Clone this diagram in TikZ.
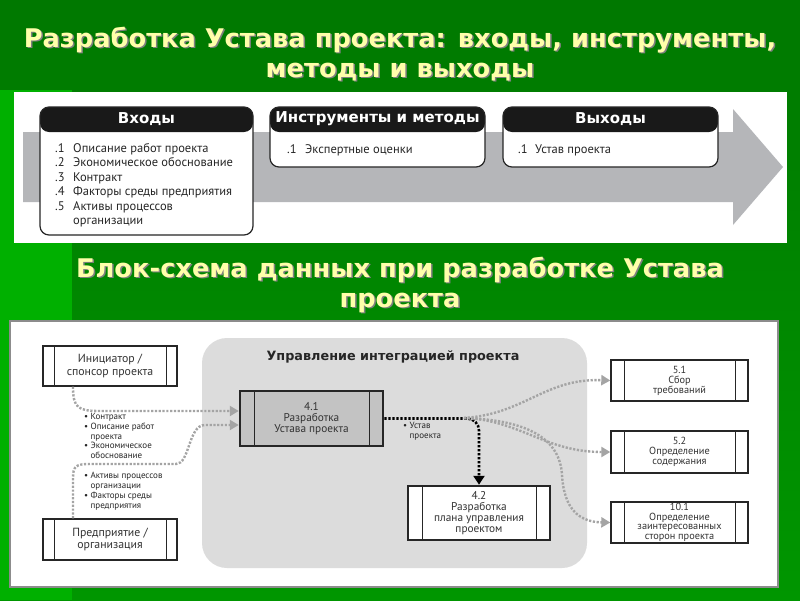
\documentclass[tikz,border=0pt]{standalone}
\usepackage{fontspec}
\setmainfont{PT Sans}
\newfontfamily\titlefont{DejaVu Sans}
\usetikzlibrary{arrows.meta,calc}
\definecolor{bgtop}{HTML}{007800}
\definecolor{bgbot}{HTML}{009600}
\definecolor{bgleft}{HTML}{00B000}
\definecolor{titleyellow}{HTML}{FFFFAA}
\definecolor{arrowgray}{HTML}{B5B6B9}
\definecolor{regiongray}{HTML}{DCDCDC}
\definecolor{procgray}{HTML}{C3C3C3}
\definecolor{dotgray}{HTML}{A4A4A4}

\begin{document}
\begin{tikzpicture}[x=1pt,y=-1pt,
	titletxt/.style={font=\titlefont\bfseries\fontsize{25.7}{28}\selectfont, text=titleyellow, anchor=base, inner sep=0},
	titleshadow/.style={titletxt, text=black!50},
	ittobox/.style={draw=black!85, line width=1.2pt, fill=white, rounded corners=9pt, inner sep=0,
		path picture={\fill[black!90] (path picture bounding box.north west) rectangle ([yshift=-25pt]path picture bounding box.north east);}},
	headtxt/.style={font=\titlefont\bfseries\fontsize{15}{17}\selectfont, text=white, inner sep=0},
	itemtxt/.style={font=\fontsize{12.5}{14}\selectfont, text=black!85, anchor=base west, inner sep=0},
	procbox/.style={draw=black!85, line width=1.4pt, fill=white, inner sep=0, align=center, text=black!80,
		path picture={\draw[line width=0.9pt] ([xshift=#1]path picture bounding box.north west) -- ([xshift=#1]path picture bounding box.south west)
			([xshift=-#1]path picture bounding box.north east) -- ([xshift=-#1]path picture bounding box.south east);}},
	procbox/.default=12pt,
	bullettxt/.style={font=\fontsize{9}{9.8}\selectfont, align=left, anchor=north west, inner sep=0, text=black!85},
	graydots/.style={draw=dotgray, line width=2.4pt, dash pattern=on 2.2pt off 1.6pt, -{Triangle[length=9pt,width=10pt]}},
	blackdots/.style={draw=black, line width=2.6pt, dash pattern=on 2.4pt off 1.6pt, -{Triangle[length=9pt,width=11pt]}}
	]
	% background
	\useasboundingbox (0,0) rectangle (800,600);
	\shade[top color=bgtop, bottom color=bgbot] (0,0) rectangle (800,600);
	\fill[bgleft] (0,90) rectangle (72,600);
	% titles
	\foreach \txt/\yy [count=\i] in {{Разработка Устава проекта: входы, инструменты,}/47, {методы и выходы}/77,
		{Блок-схема данных при разработке Устава}/277, {проекта}/307}{
		\node[titleshadow] (tsh\i) at (401.5,\yy+1.5) {\txt};
		\node[titletxt] (ttl\i) at (400,\yy) {\txt};
	}

	% top panel: inputs, tools, outputs
	\fill[white] (14,92) rectangle (787,243);
	\fill[arrowgray] (23,132) -- (733,132) -- (733,109) -- (783,167) -- (733,225) -- (733,202) -- (23,202) -- cycle;
	\node[ittobox, minimum width=213pt, minimum height=128pt] (inbox) at (146.5,171) {};
	\node[ittobox, minimum width=215pt, minimum height=60pt] (toolbox) at (377.5,137) {};
	\node[ittobox, minimum width=215pt, minimum height=60pt] (outbox) at (610.5,137) {};
	\node[headtxt] (inhead) at ([yshift=-12.5pt]inbox.north) {Входы};
	\node[headtxt] (toolhead) at ([yshift=-12.5pt]toolbox.north) {Инструменты и методы};
	\node[headtxt] (outhead) at ([yshift=-12.5pt]outbox.north) {Выходы};
	\foreach \n/\t [count=\i from 0] in {.1/Описание работ проекта, .2/Экономическое обоснование, .3/Контракт,
		.4/Факторы среды предприятия, .5/Активы процессов, /организации}{
		\node[itemtxt] (num\i) at (55,152+14.5*\i) {\n};
		\node[itemtxt] (item\i) at (73,152+14.5*\i) {\t};
	}
	\node[itemtxt] (toolnum) at (287,153) {.1};
	\node[itemtxt] (toolitem) at (305,153) {Экспертные оценки};
	\node[itemtxt] (outnum) at (518,153) {.1};
	\node[itemtxt] (outitem) at (535,153) {Устав проекта};

	% bottom panel: data flow
	\draw[draw=black!45, line width=1.2pt, fill=white] (10,321) rectangle (778,587);
	\fill[regiongray, rounded corners=25pt] (202,338) rectangle (587,568);
	\node[font=\titlefont\bfseries\fontsize{12.8}{14}\selectfont, text=black!85] (regtitle) at (393,357) {Управление интеграцией проекта};

	\node[procbox=11pt, minimum width=134pt, minimum height=40pt, font=\fontsize{11.8}{12.5}\selectfont] (sponsor) at (110,366) {Инициатор /\\спонсор проекта};
	\node[procbox=11pt, minimum width=134pt, minimum height=41pt, font=\fontsize{11.8}{12.5}\selectfont] (enterprise) at (110,539.5) {Предприятие /\\организация};
	\node[procbox=14pt, line width=2.5pt, fill=procgray, minimum width=143pt, minimum height=55pt, font=\fontsize{11.3}{10.8}\selectfont] (dev) at (311.5,418.5) {4.1\\Разработка\\Устава проекта};
	\node[procbox=14pt, line width=2.5pt, minimum width=142pt, minimum height=54pt, font=\fontsize{11.3}{10.8}\selectfont] (plan) at (479,513) {4.2\\Разработка\\плана управления\\проектом};
	\node[procbox=13pt, minimum width=137pt, minimum height=41pt, font=\fontsize{10.3}{10}\selectfont] (req) at (679.5,380.5) {5.1\\Сбор\\требований};
	\node[procbox=13pt, minimum width=137pt, minimum height=42pt, font=\fontsize{10.3}{10}\selectfont] (scope) at (679.5,452) {5.2\\Определение\\содержания};
	\node[procbox=13pt, minimum width=137pt, minimum height=41pt, font=\fontsize{10.3}{9.6}\selectfont] (stake) at (679.5,522.5) {10.1\\Определение\\заинтересованных\\сторон проекта};

	% connectors
	\draw[graydots] ([xshift=-37pt]sponsor.south) .. controls (73,408) and (78,411) .. (100,411) -- ($(dev.west)+(0,-7.5)$);
	\draw[graydots] ([xshift=-37pt]enterprise.north) -- (73,478) .. controls (73,466) and (76,464) .. (90,464) -- (176,464)
		.. controls (190,464) and (188,425) .. (205,425) -- ($(dev.west)+(0,6.5)$);
	\draw[blackdots, rounded corners=12pt] (dev.east) -| (plan.north);
	\coordinate (split) at (464,418);
	\draw[graydots] (split) .. controls (525,414) and (545,378) .. (req.west);
	\draw[graydots] (split) .. controls (520,420) and (545,452) .. (scope.west);
	\draw[graydots] (split) .. controls (530,420) and (560,440) .. (562,475) .. controls (564,510) and (580,522) .. (stake.west);

	% data labels
	\node[bullettxt] (contractlist) at (84,413) {\textbullet\ Контракт\\\textbullet\ Описание работ\\\phantom{\textbullet\ }проекта\\\textbullet\ Экономическое\\\phantom{\textbullet\ }обоснование};
	\node[bullettxt] (assetlist) at (84,472) {\textbullet\ Активы процессов\\\phantom{\textbullet\ }организации\\\textbullet\ Факторы среды\\\phantom{\textbullet\ }предприятия};
	\node[bullettxt] (charterlist) at (403,422) {\textbullet\ Устав\\\phantom{\textbullet\ }проекта};
\end{tikzpicture}
\end{document}
